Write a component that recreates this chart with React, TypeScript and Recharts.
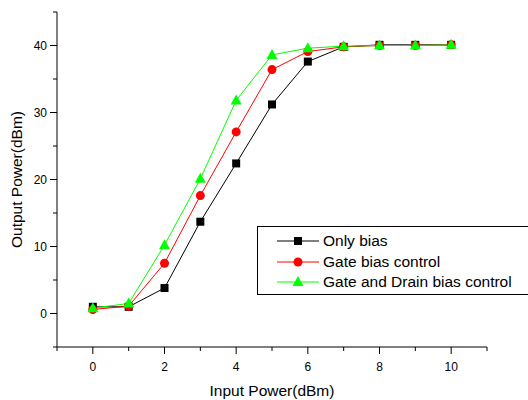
import { ComposedChart, Line, XAxis, YAxis } from 'recharts';

const inputPower = [0, 1, 2, 3, 4, 5, 6, 7, 8, 9, 10];
const onlyBias = [1.0, 1.0, 3.8, 13.7, 22.4, 31.2, 37.6, 39.8, 40.1, 40.1, 40.1];
const gateBias = [0.6, 1.1, 7.5, 17.6, 27.1, 36.4, 39.1, 39.8, 40.0, 40.0, 40.1];
const gateDrain = [0.8, 1.5, 10.2, 20.1, 31.8, 38.6, 39.6, 39.9, 40.0, 40.0, 40.1];

const xTicks = [-1, 0, 1, 2, 3, 4, 5, 6, 7, 8, 9, 10, 11];
const yTicks = [-5, 0, 5, 10, 15, 20, 25, 30, 35, 40, 45];

const seriesInfo = [
  { key: 'onlyBias', name: 'Only bias', color: '#000000', shape: 'square' },
  { key: 'gateBias', name: 'Gate bias control', color: '#ff0000', shape: 'circle' },
  { key: 'gateDrain', name: 'Gate and Drain bias control', color: '#00ff00', shape: 'triangle' },
];

const data = inputPower.map((x, i) => ({
  x,
  onlyBias: onlyBias[i],
  gateBias: gateBias[i],
  gateDrain: gateDrain[i],
}));

const font = '"Liberation Sans", Arial, sans-serif';

const Marker = ({ cx, cy, shape, color }: any) => {
  if (cx == null || cy == null) return null;
  if (shape === 'square') {
    return <rect x={cx - 4} y={cy - 4} width={8} height={8} fill={color} />;
  }
  if (shape === 'circle') {
    return <circle cx={cx} cy={cy} r={4.5} fill={color} />;
  }
  return <polygon points={`${cx},${cy - 6} ${cx - 5.5},${cy + 4} ${cx + 5.5},${cy + 4}`} fill={color} />;
};

// y ticks: labels on multiples of 10, short minor ticks in between
const YTick = (props: any) => {
  const { x, y, payload } = props;
  const major = payload.value % 10 === 0;
  const end = x + 10;
  return (
    <g>
      <line x1={end - (major ? 7 : 4)} y1={y} x2={end} y2={y} stroke="#000" strokeWidth={1} />
      {major && payload.value >= 0 && payload.value <= 40 && (
        <text x={x} y={y} dy={4} textAnchor="end" fontSize={12} fontFamily={font} fill="#000">
          {payload.value}
        </text>
      )}
    </g>
  );
};

const XTick = (props: any) => {
  const { x, y, payload } = props;
  const major = payload.value % 2 === 0;
  const top = y - 10;
  return (
    <g>
      <line x1={x} y1={top} x2={x} y2={top + (major ? 7 : 4)} stroke="#000" strokeWidth={1} />
      {major && payload.value >= 0 && payload.value <= 10 && (
        <text x={x} y={y} dy={14} textAnchor="middle" fontSize={12} fontFamily={font} fill="#000">
          {payload.value}
        </text>
      )}
    </g>
  );
};

const LegendBox = () => (
  <div
    style={{
      position: 'absolute',
      left: 257,
      top: 226,
      width: 280,
      height: 69,
      border: '1px solid #000',
      background: '#fff',
      boxSizing: 'border-box',
      padding: '4px 0 0 19px',
      fontFamily: font,
      fontSize: 15.5,
    }}
  >
    {seriesInfo.map((s) => (
      <div key={s.key} style={{ display: 'flex', alignItems: 'center', height: 20.5 }}>
        <svg width={42} height={14} style={{ marginRight: 4 }}>
          <line x1={0} y1={7} x2={42} y2={7} stroke={s.color} strokeWidth={1} />
          <Marker cx={21} cy={7} shape={s.shape} color={s.color} />
        </svg>
        <span style={{ color: '#000' }}>{s.name}</span>
      </div>
    ))}
  </div>
);

export default function App() {
  return (
    <div style={{ position: 'absolute', left: 0, top: 0, width: 528, height: 400, overflow: 'hidden', background: '#fff' }}>
      <ComposedChart
        width={528}
        height={400}
        data={data}
        margin={{ top: 12, right: 41, bottom: 0, left: 0 }}
      >
        <XAxis
          dataKey="x"
          type="number"
          domain={[-1, 11]}
          ticks={xTicks}
          interval={0}
          height={53}
          stroke="#000"
          tickSize={7}
          tickMargin={3}
          tickLine={false}
          tick={<XTick />}
          label={{
            value: 'Input Power(dBm)',
            position: 'insideBottom',
            offset: 4,
            style: { fontFamily: font, fontSize: 15.5, fill: '#000' },
          }}
        />
        <YAxis
          type="number"
          domain={[-5, 45]}
          ticks={yTicks}
          interval={0}
          width={57}
          stroke="#000"
          tickSize={7}
          tickMargin={3}
          tickLine={false}
          tick={<YTick />}
          label={{
            value: 'Output Power(dBm)',
            angle: -90,
            position: 'insideLeft',
            offset: 16,
            style: { textAnchor: 'middle', fontFamily: font, fontSize: 15.5, fill: '#000' },
          }}
        />
        {seriesInfo.map((s) => (
          <Line
            key={s.key}
            type="linear"
            dataKey={s.key}
            name={s.name}
            stroke={s.color}
            strokeWidth={1}
            isAnimationActive={false}
            dot={(p: any) => <Marker key={`${s.key}-${p.index}`} cx={p.cx} cy={p.cy} shape={s.shape} color={s.color} />}
            activeDot={false}
          />
        ))}
      </ComposedChart>
      <LegendBox />
    </div>
  );
}
